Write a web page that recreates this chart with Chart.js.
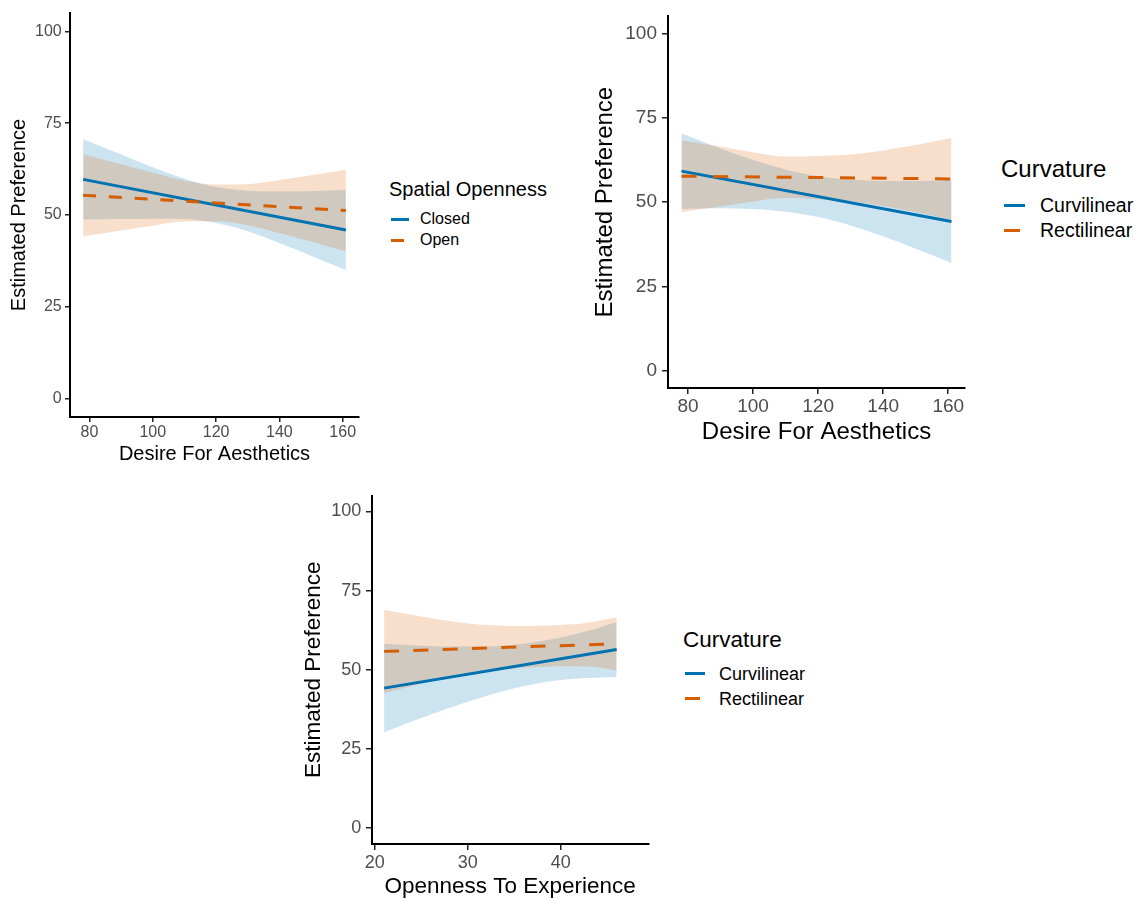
<!DOCTYPE html>
<html>
<head>
<meta charset="utf-8">
<script src="https://cdn.jsdelivr.net/npm/chart.js@4"></script>
<style>
  html, body { margin: 0; padding: 0; background: #fff; }
  body { width: 1138px; height: 900px; position: relative; overflow: hidden;
         font-family: "Liberation Sans", Arial, Helvetica, sans-serif; }
  canvas { position: absolute; }
  .lg { position: absolute; line-height: 1; white-space: nowrap; color: #000; }
  .key { position: absolute; height: 3px; }
</style>
</head>
<body>
<canvas id="c1" width="365" height="470" style="left:0px;top:0px;"></canvas>
<canvas id="c2" width="380" height="450" style="left:590px;top:0px;"></canvas>
<canvas id="c3" width="365" height="420" style="left:290px;top:480px;"></canvas>

<!-- Legend panel 1 -->
<div class="lg" style="left:389px;top:179px;font-size:20px;">Spatial Openness</div>
<div class="key" style="left:391px;top:217.5px;width:17.5px;background:#0072B2;"></div>
<div class="lg" style="left:420px;top:211px;font-size:16px;">Closed</div>
<div class="key" style="left:391px;top:238.5px;width:12.5px;background:#D55E00;"></div>
<div class="lg" style="left:420px;top:232px;font-size:16px;">Open</div>

<!-- Legend panel 2 -->
<div class="lg" style="left:1001px;top:156.5px;font-size:24px;">Curvature</div>
<div class="key" style="left:1004px;top:203.5px;width:21px;background:#0072B2;"></div>
<div class="lg" style="left:1040px;top:195.5px;font-size:19.5px;">Curvilinear</div>
<div class="key" style="left:1004px;top:228.5px;width:16px;background:#D55E00;"></div>
<div class="lg" style="left:1040px;top:220.5px;font-size:19.5px;">Rectilinear</div>

<!-- Legend panel 3 -->
<div class="lg" style="left:683px;top:629px;font-size:22.5px;">Curvature</div>
<div class="key" style="left:685px;top:672px;width:20px;background:#0072B2;"></div>
<div class="lg" style="left:719px;top:664.5px;font-size:18px;">Curvilinear</div>
<div class="key" style="left:685px;top:697px;width:15px;background:#D55E00;"></div>
<div class="lg" style="left:719px;top:689.5px;font-size:18px;">Rectilinear</div>

<script>
// ---------------- DATA ----------------
const yTicks = [0, 25, 50, 75, 100];

// Panel 1: Desire For Aesthetics x Spatial Openness
const p1Ticks = [80, 100, 120, 140, 160];
const p1X = [78, 90, 100, 110, 120, 130, 140, 150, 161];
const p1FitX = [78, 161];
const p1ClosedFit = [59.7, 45.9];
const p1ClosedUpper = [70.6, 66.5, 63.0, 59.9, 57.6, 56.6, 56.4, 56.5, 56.8];
const p1ClosedLower = [48.8, 48.9, 49.0, 48.9, 47.8, 45.6, 42.4, 38.9, 35.0];
const p1OpenFit = [55.4, 51.2];
const p1OpenUpper = [66.6, 63.8, 61.5, 59.4, 58.3, 58.4, 59.5, 60.8, 62.3];
const p1OpenLower = [44.2, 45.8, 47.1, 48.2, 48.3, 47.2, 45.1, 42.8, 40.1];

// Panel 2: Desire For Aesthetics x Curvature
const p2Ticks = [80, 100, 120, 140, 160];
const p2X = [78, 90, 100, 110, 120, 130, 140, 150, 161];
const p2FitX = [78, 161];
const p2CurviFit = [59.2, 44.3];
const p2CurviUpper = [70.4, 65.9, 62.5, 59.7, 57.7, 56.7, 56.3, 56.3, 56.6];
const p2CurviLower = [48.0, 48.2, 48.0, 47.2, 45.6, 43.1, 39.9, 36.2, 32.0];
const p2RectiFit = [57.7, 56.9];
const p2RectiUpper = [68.3, 66.5, 64.8, 63.5, 63.7, 64.1, 65.3, 66.9, 69.0];
const p2RectiLower = [47.1, 48.7, 50.2, 51.3, 50.9, 50.3, 48.9, 47.1, 44.8];

// Panel 3: Openness To Experience x Curvature
const p3Ticks = [20, 30, 40];
const p3X = [21, 25, 30, 35, 40, 43, 46];
const p3FitX = [21, 46];
const p3CurviFit = [44.2, 56.4];
const p3CurviUpper = [58.1, 57.6, 57.3, 57.9, 60.2, 62.3, 65.1];
const p3CurviLower = [30.3, 34.8, 39.9, 44.2, 46.8, 47.4, 47.7];
const p3RectiFit = [55.8, 58.2];
const p3RectiUpper = [68.9, 66.8, 64.6, 63.8, 64.1, 64.9, 66.6];
const p3RectiLower = [42.7, 45.6, 48.8, 50.4, 51.1, 51.0, 49.8];

// ---------------- STYLE ----------------
const BLUE = '#0072B2';
const ORANGE = '#D55E00';
const BLUE_FILL = 'rgba(0,114,178,0.2)';
const ORANGE_FILL = 'rgba(213,94,0,0.2)';
const FONT = '"Liberation Sans", Arial, Helvetica, sans-serif';
Chart.defaults.font.family = FONT;

function pts(xs, ys) { return xs.map((x, i) => ({ x: x, y: ys[i] })); }

function makePanel(id, cfg) {
  const datasets = [
    { data: pts(cfg.fitX, cfg.aFit), borderColor: BLUE, borderWidth: 3, pointRadius: 0,
      fill: false, order: 1, borderCapStyle: 'butt' },
    { data: pts(cfg.fitX, cfg.bFit), borderColor: ORANGE, borderWidth: 3, pointRadius: 0,
      fill: false, order: 0, borderDash: cfg.dash, borderCapStyle: 'butt' },
    { data: pts(cfg.x, cfg.aUp), borderWidth: 0, borderColor: 'rgba(0,0,0,0)', pointRadius: 0,
      fill: '+1', backgroundColor: BLUE_FILL, order: 3, cubicInterpolationMode: 'monotone' },
    { data: pts(cfg.x, cfg.aLo), borderWidth: 0, borderColor: 'rgba(0,0,0,0)', pointRadius: 0,
      fill: false, order: 3, cubicInterpolationMode: 'monotone' },
    { data: pts(cfg.x, cfg.bUp), borderWidth: 0, borderColor: 'rgba(0,0,0,0)', pointRadius: 0,
      fill: '+1', backgroundColor: ORANGE_FILL, order: 2, cubicInterpolationMode: 'monotone' },
    { data: pts(cfg.x, cfg.bLo), borderWidth: 0, borderColor: 'rgba(0,0,0,0)', pointRadius: 0,
      fill: false, order: 2, cubicInterpolationMode: 'monotone' }
  ];
  return new Chart(document.getElementById(id), {
    type: 'line',
    data: { datasets: datasets },
    options: {
      responsive: false, animation: false, devicePixelRatio: 1,
      layout: { padding: cfg.pad },
      plugins: { legend: { display: false }, tooltip: { enabled: false } },
      scales: {
        x: {
          type: 'linear', min: cfg.xMin, max: cfg.xMax,
          afterFit: s => { s.height = cfg.xH; },
          afterBuildTicks: s => { s.ticks = cfg.xTicks.map(v => ({ value: v })); },
          grid: { display: true, drawOnChartArea: false, drawTicks: true,
                  tickLength: cfg.tl, color: '#222', lineWidth: 1.5 },
          border: { display: true, color: '#000', width: 2 },
          ticks: { color: '#4D4D4D', font: { size: cfg.tickSize }, padding: cfg.xPad,
                   maxRotation: 0, autoSkip: false, callback: v => String(v) },
          title: { display: true, text: cfg.xTitle, color: '#000',
                   font: { size: cfg.titleSize }, padding: { top: 0, bottom: cfg.xTitlePad } }
        },
        y: {
          type: 'linear', min: -5, max: 105,
          afterFit: s => { s.width = cfg.yW; },
          afterBuildTicks: s => { s.ticks = yTicks.map(v => ({ value: v })); },
          grid: { display: true, drawOnChartArea: false, drawTicks: true,
                  tickLength: cfg.tl, color: '#222', lineWidth: 1.5 },
          border: { display: true, color: '#000', width: 2 },
          ticks: { color: '#4D4D4D', font: { size: cfg.tickSize }, padding: cfg.yPad,
                   autoSkip: false, callback: v => String(v) },
          title: { display: true, text: 'Estimated Preference', color: '#000',
                   font: { size: cfg.titleSize }, padding: { top: cfg.yTitlePad, bottom: 0 } }
        }
      }
    }
  });
}

makePanel('c1', {
  x: p1X, fitX: p1FitX, aFit: p1ClosedFit, aUp: p1ClosedUpper, aLo: p1ClosedLower,
  bFit: p1OpenFit, bUp: p1OpenUpper, bLo: p1OpenLower, xTicks: p1Ticks,
  xMin: 73.85, xMax: 165.15, xTitle: 'Desire For Aesthetics',
  pad: { top: 13, right: 6, left: 0, bottom: 0 }, yW: 70, xH: 53,
  tl: 5, xPad: 1, yPad: 3.3, tickSize: 16, titleSize: 20, xTitlePad: 3.2, yTitlePad: 7,
  dash: [13, 12.8]
});

makePanel('c2', {
  x: p2X, fitX: p2FitX, aFit: p2CurviFit, aUp: p2CurviUpper, aLo: p2CurviLower,
  bFit: p2RectiFit, bUp: p2RectiUpper, bLo: p2RectiLower, xTicks: p2Ticks,
  xMin: 73.85, xMax: 165.15, xTitle: 'Desire For Aesthetics',
  pad: { top: 13, right: 5, left: 0, bottom: 0 }, yW: 78, xH: 62,
  tl: 6, xPad: 1.3, yPad: 5, tickSize: 19, titleSize: 24, xTitlePad: 3.6, yTitlePad: 1.4,
  dash: [15, 16.7]
});

makePanel('c3', {
  x: p3X, fitX: p3FitX, aFit: p3CurviFit, aUp: p3CurviUpper, aLo: p3CurviLower,
  bFit: p3RectiFit, bUp: p3RectiUpper, bLo: p3RectiLower, xTicks: p3Ticks,
  xMin: 19.7, xMax: 49.4, xTitle: 'Openness To Experience',
  pad: { top: 15, right: 6.7, left: 0, bottom: 0 }, yW: 82, xH: 56,
  tl: 6, xPad: 2.2, yPad: 4.7, tickSize: 18, titleSize: 22.5, xTitlePad: 0, yTitlePad: 10.4,
  dash: [15, 14.3]
});
</script>
</body>
</html>
